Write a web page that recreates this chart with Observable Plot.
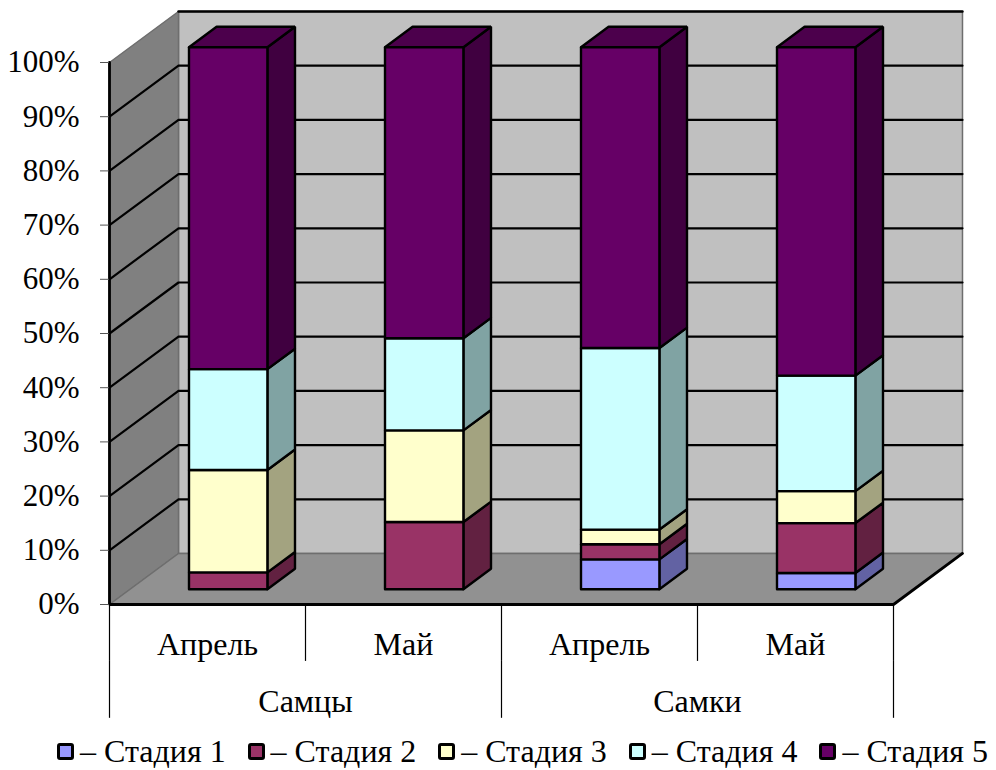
<!DOCTYPE html>
<html lang="ru">
<head>
<meta charset="utf-8">
<script src="https://cdn.jsdelivr.net/npm/d3@7"></script>
<script src="https://cdn.jsdelivr.net/npm/@observablehq/plot@0.6"></script>
<style>
  html, body { margin: 0; padding: 0; background: #fff; overflow: hidden; }
  svg { display: block; }
  #legend { display: flex; height: 45px; padding: 8px 0 0 57px; box-sizing: border-box;
            font: 32px "Liberation Serif", serif; color: #000; line-height: 36px; }
  #legend .item { flex: none; width: 190.6px; display: flex; align-items: center; white-space: nowrap; height: 36px; }
  #legend .swatch { flex: none; width: 17px; height: 17px; box-sizing: border-box; border: 3px solid #000;
                    border-radius: 3px; margin-right: 6px; }
</style>
</head>
<body>
<div id="chart"></div>
<div id="legend"></div>
<script>
// Share of gonad maturity stages, per sex and month (percent of the sample)
const sexes = ["Самцы", "Самки"];
const months = ["Апрель", "Май", "Апрель", "Май"];
const stages = ["Стадия 1", "Стадия 2", "Стадия 3", "Стадия 4", "Стадия 5"];
const stage1 = [0, 0, 5.5, 3];
const stage2 = [3.1, 12.4, 2.8, 9.2];
const stage3 = [18.9, 16.9, 2.7, 5.9];
const stage4 = [18.6, 17, 33.5, 21.3];
const stage5 = [59.4, 53.7, 55.5, 60.6];
const yTicks = [0, 10, 20, 30, 40, 50, 60, 70, 80, 90, 100];

const stageValues = [stage1, stage2, stage3, stage4, stage5];
const frontColors = ["#9999ff", "#993366", "#ffffcc", "#ccffff", "#660066"];
const sideColors = ["#6262a3", "#622141", "#a3a380", "#80a3a3", "#400040"];
const topColors = ["#7373bf", "#73264d", "#bfbf99", "#99bfbf", "#4c004c"];

// Oblique projection: depth d (0 = front plane, 1 = back wall) shifts a point along both axes
const depthX = 0.352;
const depthY = 9.41;
const project = (u, v, d) => ({x: u + d * depthX, y: v + d * depthY});

// Collects closed polygons as rows for a filled line mark
function polygons() {
  const rows = [];
  let id = 0;
  return {
    rows,
    add(fill, corners) {
      id++;
      for (const [u, v, d] of [...corners, corners[0]]) rows.push({id, fill, ...project(u, v, d)});
    }
  };
}

// Chart box: back wall, left wall and floor
const walls = polygons();
walls.add("#c0c0c0", [[0, 0, 1], [4, 0, 1], [4, 100, 1], [0, 100, 1]]);
walls.add("#808080", [[0, 0, 0], [0, 0, 1], [0, 100, 1], [0, 100, 0]]);
walls.add("#919191", [[0, 0, 0], [4, 0, 0], [4, 0, 1], [0, 0, 1]]);

// Bars stand between these depths, centred in each category
const barFront = 0.3, barBack = 0.7, barLeft = 0.3, barRight = 0.7;
const bars = polygons();
months.forEach((_, i) => {
  const x0 = i + barLeft, x1 = i + barRight;
  let base = 0;
  stageValues.forEach((series, s) => {
    const v = series[i];
    if (v <= 0) return;
    const next = base + v;
    bars.add(sideColors[s], [[x1, base, barFront], [x1, base, barBack], [x1, next, barBack], [x1, next, barFront]]);
    if (s === stageValues.length - 1) {
      bars.add(topColors[s], [[x0, next, barFront], [x1, next, barFront], [x1, next, barBack], [x0, next, barBack]]);
    }
    bars.add(frontColors[s], [[x0, base, barFront], [x1, base, barFront], [x1, next, barFront], [x0, next, barFront]]);
    base = next;
  });
});

// Gridlines run across the left wall and along the back wall
const gridTicks = yTicks.filter((t) => t > 0);
const gridRows = gridTicks.flatMap((t) => [
  {id: `s${t}`, ...project(0, t, 0), kind: t},
  {id: `s${t}`, ...project(0, t, 1), kind: t},
  {id: `s${t}`, ...project(4, t, 1), kind: t}
]);

const serif = "Liberation Serif";
const plot = Plot.plot({
  width: 996,
  height: 725,
  marginLeft: 109,
  marginRight: 103,
  marginTop: 62,
  marginBottom: 121,
  style: {background: "#fff", fontFamily: serif},
  x: {domain: [0, 4], axis: null},
  y: {domain: [0, 100], axis: null},
  color: {type: "identity"},
  marks: [
    Plot.line(walls.rows, {x: "x", y: "y", z: "id", fill: "fill", stroke: "#6e6e6e", strokeWidth: 1.5, strokeLinejoin: "miter"}),
    Plot.line(gridRows.filter((d) => d.kind < 100), {x: "x", y: "y", z: "id", stroke: "#000", strokeWidth: 2.2, strokeLinejoin: "miter"}),
    // Top edge of the back wall is drawn in black
    Plot.line([project(0, 100, 1), project(4, 100, 1)], {x: "x", y: "y", stroke: "#000", strokeWidth: 2.4}),
    Plot.line(bars.rows, {x: "x", y: "y", z: "id", fill: "fill", stroke: "#000", strokeWidth: 2.4, strokeLinejoin: "miter"}),
    // Frame in front: value axis, base line and the floor's right edge
    Plot.line([project(0, 100, 0), project(0, 0, 0), project(4, 0, 0), project(4, 0, 1)], {x: "x", y: "y", stroke: "#000", strokeWidth: 2.8, strokeLinejoin: "miter"}),
    Plot.axisY({ticks: yTicks, tickFormat: (d) => `${d}%`, tickSize: 9, tickPadding: 21, fontSize: 31, stroke: "#555", color: "#000", label: null}),
    // Two-level category axis
    Plot.ruleX([0, 1, 2, 3, 4], {x: (d) => d, y1: 0, y2: -10.5, stroke: "#000", strokeWidth: 1.2}),
    Plot.ruleX([0, 2, 4], {x: (d) => d, y1: -10.5, y2: -21, stroke: "#000", strokeWidth: 1.2}),
    Plot.text(months, {x: (_, i) => i + 0.5, y: -7.4, text: (d) => d, fontSize: 32, fontFamily: serif, fill: "#000"}),
    Plot.text(sexes, {x: (_, i) => 2 * i + 1, y: -17.9, text: (d) => d, fontSize: 32, fontFamily: serif, fill: "#000"})
  ]
});
document.getElementById("chart").append(plot);

// Legend below the chart
const legend = d3.select("#legend");
stages.forEach((name, s) => {
  const item = legend.append("div").attr("class", "item");
  item.append("div").attr("class", "swatch").style("background", frontColors[s]);
  item.append("span").text(`– ${name}`);
});
</script>
</body>
</html>
